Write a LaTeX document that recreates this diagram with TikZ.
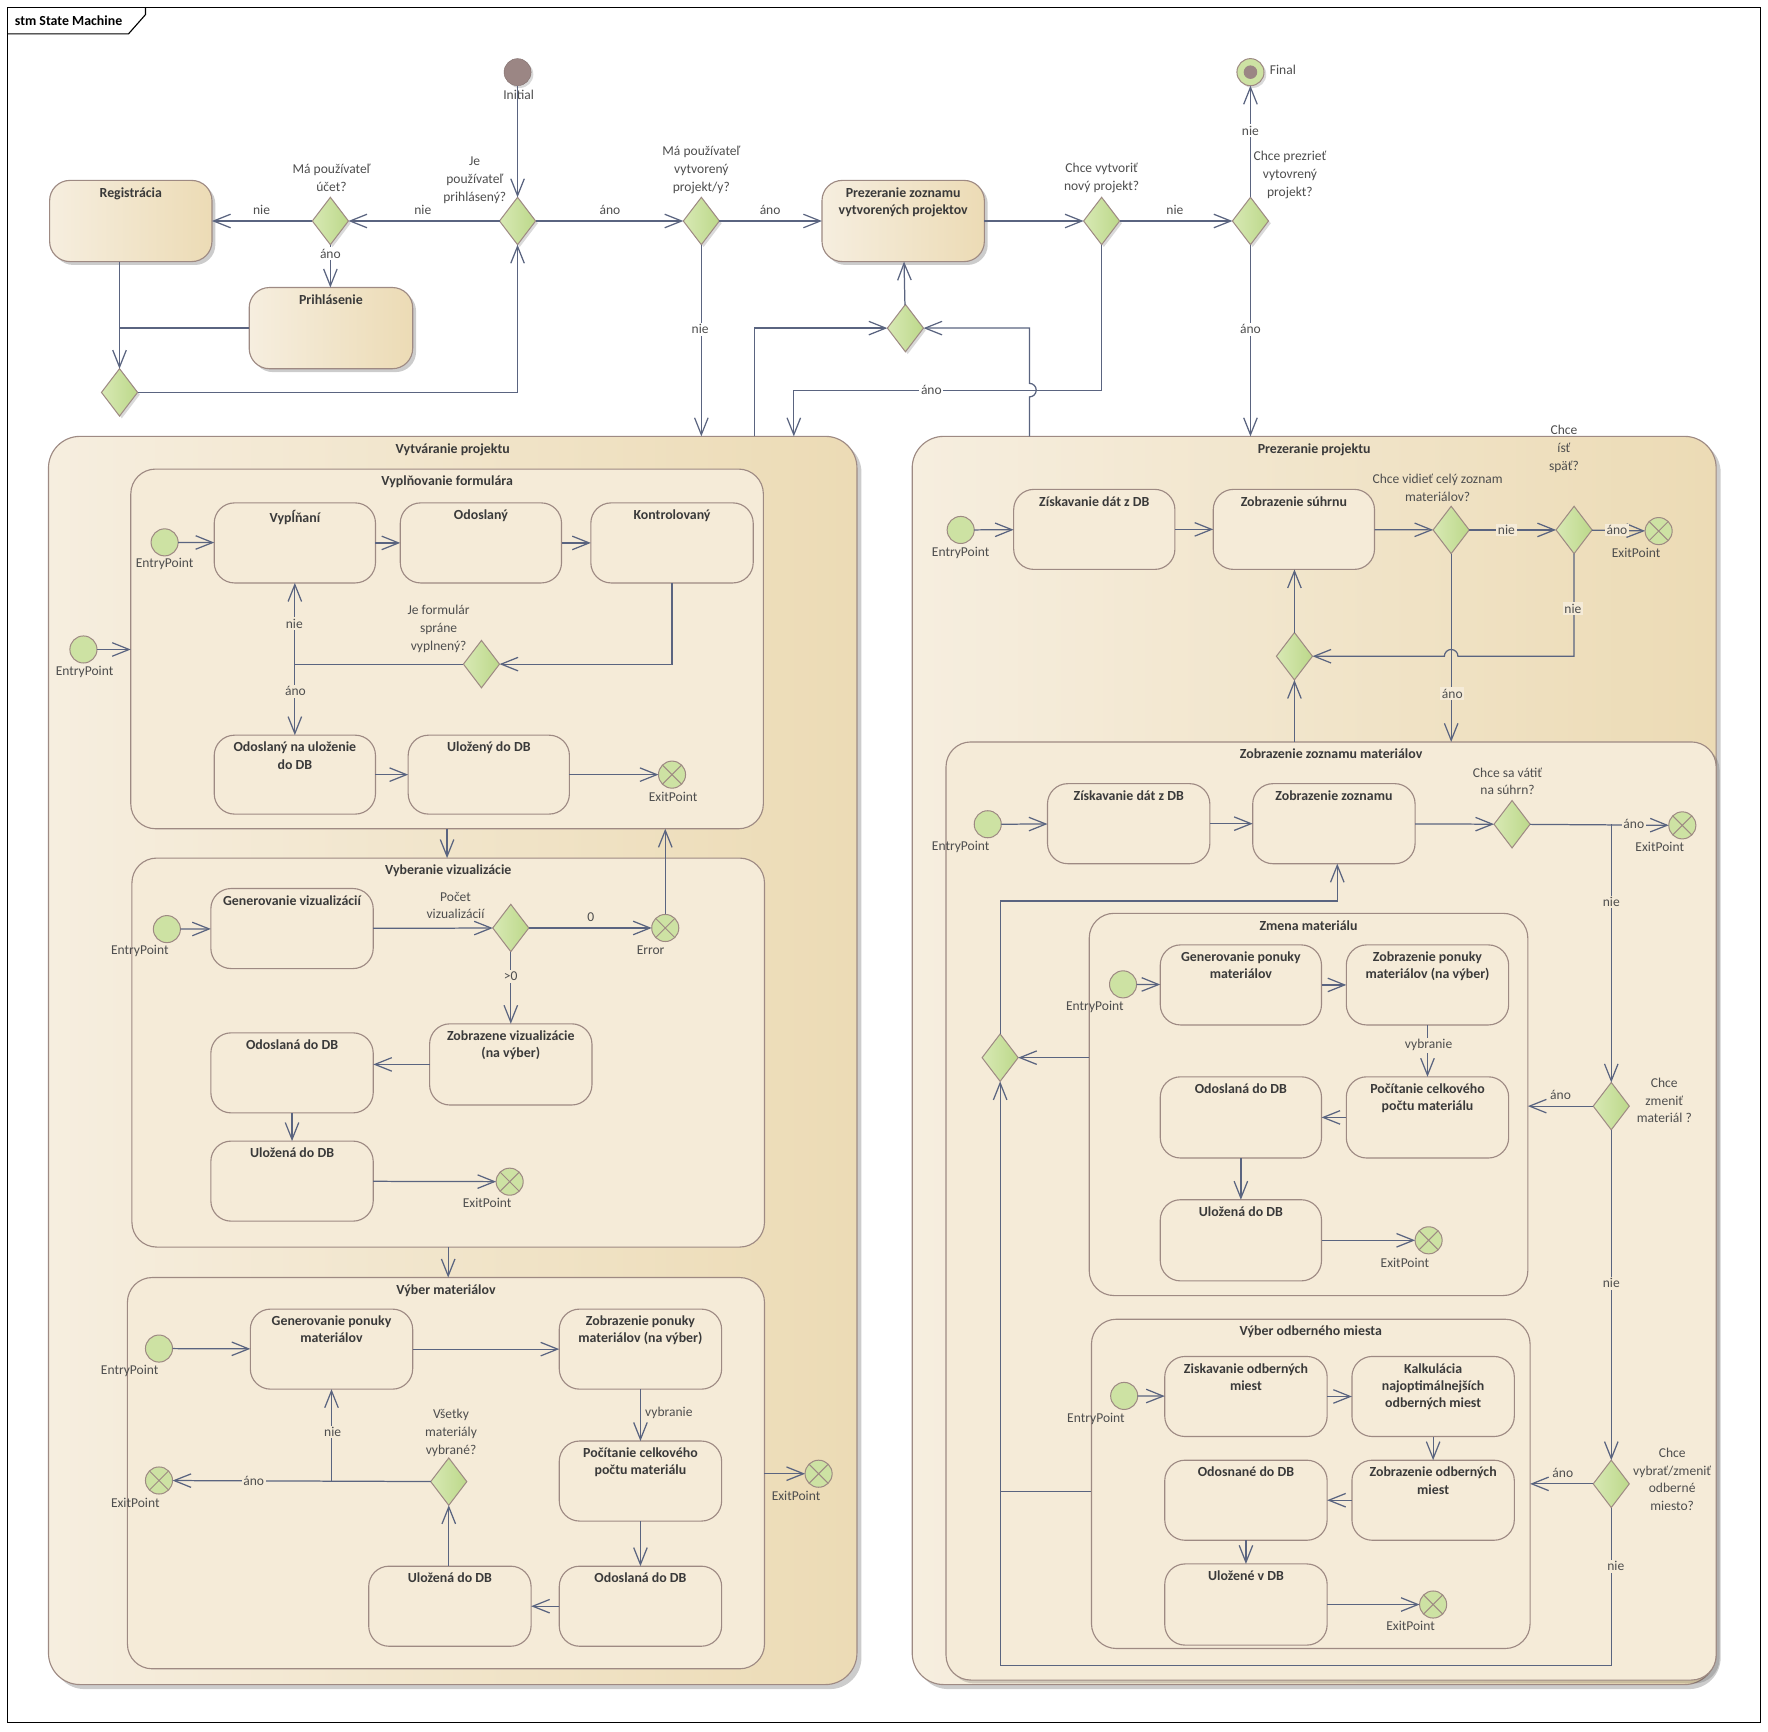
\documentclass[tikz,border=0pt]{standalone}
\usepackage{fontspec}
\setmainfont{Carlito}
\usetikzlibrary{arrows.meta,shapes.geometric,shadows}

\definecolor{lnc}{HTML}{5A6480}
\definecolor{bdc}{HTML}{9E8A83}
\definecolor{crm}{HTML}{F5EBD8}
\definecolor{crml}{HTML}{F6EEDF}
\definecolor{tanc}{HTML}{ECDBB5}
\definecolor{grnL}{HTML}{D8E9B4}
\definecolor{grnR}{HTML}{BCD88A}
\definecolor{grn}{HTML}{CDE2A3}
\definecolor{ini}{HTML}{9B8684}
\definecolor{txt}{HTML}{3A3A3A}
\definecolor{lbl}{HTML}{4E4E4E}

\tikzset{
  ln/.style={draw=lnc, line width=1.1pt},
  tr/.style={ln, -{Straight Barb[length=15pt,width=12pt]}},
  state/.style={draw=bdc, line width=1pt, fill=crm, rounded corners=18pt,
    inner sep=0pt, outer sep=0pt},
  topst/.style={left color=crml, right color=tanc,
    drop shadow={shadow xshift=3pt,shadow yshift=-3pt,fill=black,opacity=.2}},
  comp/.style={rounded corners=22pt},
  bigst/.style={rounded corners=28pt, left color=crml, right color=tanc,
    drop shadow={shadow xshift=4pt,shadow yshift=-4pt,fill=black,opacity=.2}},
  choice/.style={diamond, draw=bdc, line width=0.9pt, left color=grnL,
    right color=grnR, minimum width=32pt, minimum height=42pt, inner sep=0pt,
    outer sep=0pt},
  topch/.style={drop shadow={shadow xshift=2pt,shadow yshift=-2pt,fill=black,opacity=.15}},
  entry/.style={circle, draw=bdc, fill=grn, minimum size=24pt, inner sep=0pt,
    outer sep=0pt, line width=0.9pt},
  exitp/.style={entry, path picture={
    \draw[bdc,line width=0.9pt]
      ([shift={(-8.5pt,-8.5pt)}]path picture bounding box.center) --
      ([shift={(8.5pt,8.5pt)}]path picture bounding box.center)
      ([shift={(-8.5pt,8.5pt)}]path picture bounding box.center) --
      ([shift={(8.5pt,-8.5pt)}]path picture bounding box.center);}},
  titlest/.style={font=\bfseries\fontsize{12.3}{15.2}\selectfont, text=txt,
    align=center, inner sep=1pt},
  lab/.style={font=\fontsize{12}{15.8}\selectfont, text=lbl, align=center,
    inner sep=1pt},
  labw/.style={lab, fill=white, inner sep=1.5pt},
  labc/.style={lab, fill=crm, inner sep=1.5pt},
}

% state box given by its corners, with its title near the top edge
\newcommand{\stbx}[7][]{%
  \pgfmathsetmacro\stbxcx{(#3+#5)/2}%
  \pgfmathsetmacro\stbxcy{(#4+#6)/2}%
  \pgfmathsetmacro\stbxw{#5-#3}%
  \pgfmathsetmacro\stbxh{#6-#4}%
  \node[state,#1,minimum width=\stbxw pt,minimum height=\stbxh pt] (#2) at (\stbxcx,\stbxcy) {};%
  \node[titlest,anchor=north] (#2-t) at ([yshift=-5pt]#2.north) {#7};%
}

\begin{document}
\begin{tikzpicture}[x=1pt,y=-1pt]
\useasboundingbox (0,0) rectangle (1568,1536);
\fill[white] (0,0) rectangle (1568,1536);

% diagram frame
\draw[black,line width=1pt] (7,7) rectangle (1561,1528);
\draw[black,line width=1pt] (7,30) -- (114,30) -- (129,13) -- (129,7);
\node[font=\bfseries\fontsize{12.3}{15}\selectfont, anchor=west, inner sep=0pt] (frame-t) at (13,18) {stm State Machine};

% ---------------- composite states ----------------
\stbx[bigst]{vyt}{43}{387}{760}{1494}{Vytváranie projektu}
\stbx[bigst]{prez}{809}{387}{1522}{1494}{Prezeranie projektu}

\stbx[comp]{vyform}{116}{416}{677}{735}{Vyplňovanie formulára}
\stbx[comp]{vyviz}{117}{761}{678}{1106}{Vyberanie vizualizácie}
\stbx[comp]{vybmat}{113}{1133}{678}{1480}{Výber materiálov}

\stbx[comp,drop shadow={shadow xshift=3pt,shadow yshift=-3pt,fill=black,opacity=.15}]{zzm}{839}{658}{1522}{1490}{Zobrazenie zoznamu materiálov}
\stbx[comp]{zmena}{966}{810}{1355}{1149}{Zmena materiálu}
\stbx[comp]{vyod}{968}{1170}{1357}{1462}{Výber odberného miesta}

% ---------------- top level ----------------
\node[circle, fill=ini, draw=ini!85!black, minimum size=24pt, inner sep=0pt,
  drop shadow={shadow xshift=2pt,shadow yshift=-2pt,fill=black,opacity=.15}] (init) at (459,64) {};
\node[lab] (init-l) at (460,84) {Initial};

\stbx[topst]{reg}{44}{160}{188}{232}{Registrácia}
\stbx[topst]{prih}{221}{255}{366}{327}{Prihlásenie}
\stbx[topst]{pzoz}{729}{160}{873}{232}{Prezeranie zoznamu\\vytvorených projektov}

\node[choice,topch] (d1) at (293,196) {};
\node[choice,topch] (d2) at (459,196) {};
\node[choice,topch] (d3) at (106,348) {};
\node[choice,topch] (d4) at (622,196) {};
\node[choice,topch] (d5) at (977,196) {};
\node[choice,topch] (d6) at (1109,196) {};
\node[choice,topch] (d7) at (803,291) {};

\node[entry, drop shadow={shadow xshift=2pt,shadow yshift=-2pt,fill=black,opacity=.15}] (final) at (1109,64) {};
\node[circle, fill=ini, minimum size=12pt, inner sep=0pt] (final-dot) at (final) {};
\node[lab, anchor=west] (final-l) at (1125,62) {Final};

\node[lab] (d1-l) at (294,158) {Má používateľ\\účet?};
\node[lab] (d2-l) at (421,160) {Je\\používateľ\\prihlásený?};
\node[lab] (d4-l) at (622,151) {Má používateľ\\vytvorený\\projekt/y?};
\node[lab] (d5-l) at (977,158) {Chce vytvoriť\\nový projekt?};
\node[lab] (d6-l) at (1144,155) {Chce prezrieť\\vytovrený\\projekt?};

\coordinate (vyt-p1) at (669,387);
\coordinate (vyt-p2) at (704,387);
\coordinate (ano-c) at (704,346);
\coordinate (pz-p1) at (913,387);

\draw[tr] (init) -- (d2);
\draw[tr] (d2) -- (d1);
\draw[tr] (d1) -- (reg);
\draw[tr] (d1) -- (d1 |- prih.north);
\draw[tr] (d3 |- reg.south) -- (d3);
\draw[ln] (prih.west) -- (prih.west -| d3);
\draw[tr] (d3) -| (d2);
\draw[tr] (d2) -- (d4);
\draw[tr] (d4) -- (pzoz);
\draw[tr] (d4) -- (d4 |- vyt.north);
\draw[tr] (pzoz) -- (d5);
\draw[tr] (d5) -- (d6);
\draw[tr] (d6) -- (final);
\draw[tr] (d6) -- (d6 |- prez.north);
\draw[tr] (d5.south) |- (ano-c) -- (vyt-p2);
\draw[tr] (vyt-p1) |- (d7);
\draw[tr] (pz-p1) -- ++(0,-35) arc[start angle=90,end angle=-90,radius=6] |- (d7);
\draw[tr] (d7) -- (pzoz);

\node[lab] (l-nie1) at (232,186) {nie};
\node[lab] (l-nie2) at (375,186) {nie};
\node[labw] (l-ano1) at (293,225) {áno};
\node[lab] (l-ano2) at (541,186) {áno};
\node[lab] (l-ano3) at (683,186) {áno};
\node[labw] (l-nie3) at (621,292) {nie};
\node[lab] (l-nie4) at (1042,186) {nie};
\node[labw] (l-nie5) at (1109,116) {nie};
\node[labw] (l-ano4) at (1109,292) {áno};
\node[labw] (l-ano5) at (826,346) {áno};

% ---------------- Vytváranie projektu ----------------
\node[entry] (ep0) at (74,576) {};
\node[lab] (ep0-l) at (75,596) {EntryPoint};
\draw[tr] (ep0) -- (ep0 -| vyform.west);

% Vyplňovanie formulára
\node[entry] (ep1) at (146,481) {};
\node[lab] (ep1-l) at (146,500) {EntryPoint};
\stbx{vyp}{190}{446}{333}{517}{Vypĺňaní}
\stbx{ods}{355}{446}{498}{517}{Odoslaný}
\stbx{kon}{524}{446}{668}{517}{Kontrolovaný}
\node[choice] (dform) at (427,589) {};
\node[lab] (dform-l) at (389,558) {Je formulár\\spráne\\vyplnený?};
\stbx{ouloz}{190}{652}{333}{722}{Odoslaný na uloženie\\do DB}
\stbx{uloz}{362}{652}{505}{722}{Uložený do DB}
\node[exitp] (ex1) at (596,687) {};
\node[lab] (ex1-l) at (597,707) {ExitPoint};

\draw[tr] (ep1) -- (vyp);
\draw[tr] (vyp) -- (ods);
\draw[tr] (ods) -- (kon);
\draw[tr] (kon.south) |- (dform);
\draw[ln] (dform) -- (dform -| vyp);
\draw[tr] (dform -| vyp) -- (vyp.south);
\draw[tr] (dform -| vyp) -- (ouloz.north);
\draw[tr] (ouloz) -- (uloz);
\draw[tr] (uloz) -- (ex1);
\node[labc] (l-nie6) at (261,553) {nie};
\node[labc] (l-ano6) at (262,613) {áno};

\draw[tr] (vyform.south) -- (vyform.south |- vyviz.north);

% Vyberanie vizualizácie
\node[entry] (ep2) at (148,824) {};
\node[lab] (ep2-l) at (124,843) {EntryPoint};
\stbx{genviz}{187}{788}{331}{859}{Generovanie vizualizácií}
\node[choice] (dviz) at (453,823) {};
\node[lab] (dviz-l) at (404,803) {Počet\\vizualizácií};
\node[exitp] (err) at (590,823) {};
\node[lab] (err-l) at (577,843) {Error};
\stbx{zobviz}{381}{908}{525}{980}{Zobrazene vizualizácie\\(na výber)}
\stbx{odviz}{187}{916}{331}{987}{Odoslaná do DB}
\stbx{ulviz}{187}{1012}{331}{1083}{Uložená do DB}
\node[exitp] (ex2) at (452,1048) {};
\node[lab] (ex2-l) at (432,1067) {ExitPoint};

\draw[tr] (ep2) -- (genviz);
\draw[tr] (genviz) -- (dviz);
\draw[tr] (dviz) -- (err);
\draw[tr] (dviz) -- (dviz |- zobviz.north);
\draw[tr] (zobviz) -- (zobviz -| odviz.east);
\draw[tr] (odviz) -- (ulviz);
\draw[tr] (ulviz) -- (ex2);
\draw[tr] (err) -- (err |- vyform.south);
\node[lab] (l-zero) at (524,813) {0};
\node[labc] (l-gt) at (453,866) {>0};

\draw[tr] (vyviz.south) -- (vyviz.south |- vybmat.north);

% Výber materiálov
\node[entry] (ep3) at (141,1196) {};
\node[lab] (ep3-l) at (115,1216) {EntryPoint};
\stbx{genmat}{222}{1161}{366}{1232}{Generovanie ponuky\\materiálov}
\stbx{zobmat}{496}{1161}{640}{1232}{Zobrazenie ponuky\\materiálov (na výber)}
\stbx{pocmat}{496}{1278}{640}{1349}{Počítanie celkového\\počtu materiálu}
\stbx{odmat}{496}{1389}{640}{1460}{Odoslaná do DB}
\stbx{ulmat}{327}{1389}{471}{1460}{Uložená do DB}
\node[choice] (dmat) at (398,1314) {};
\node[lab] (dmat-l) at (400,1271) {Všetky\\materiály\\vybrané?};
\node[exitp] (ex3) at (141,1313) {};
\node[lab] (ex3-l) at (120,1333) {ExitPoint};
\node[exitp] (ex4) at (726,1307) {};
\node[lab] (ex4-l) at (706,1327) {ExitPoint};

\draw[tr] (ep3) -- (genmat);
\draw[tr] (genmat) -- (zobmat);
\draw[tr] (zobmat) -- (pocmat);
\draw[tr] (pocmat) -- (odmat);
\draw[tr] (odmat) -- (ulmat);
\draw[tr] (ulmat.north -| dmat) -- (dmat);
\draw[tr] (dmat) -- (ex3);
\draw[tr] (genmat |- dmat) -- (genmat.south);
\draw[tr] (ex4 -| vybmat.east) -- (ex4);
\node[lab, anchor=west] (l-vyb1) at (571,1253) {vybranie};
\node[labc] (l-nie7) at (295,1270) {nie};
\node[labc] (l-ano7) at (225,1313) {áno};

% ---------------- Prezeranie projektu ----------------
\node[lab] (spat-l) at (1387,398) {Chce\\ísť\\späť?};
\node[entry] (ep4) at (852,470) {};
\node[lab] (ep4-l) at (852,490) {EntryPoint};
\stbx{ziska}{899}{434}{1042}{505}{Získavanie dát z DB}
\stbx{zsuh}{1076}{434}{1219}{505}{Zobrazenie súhrnu}
\node[choice] (dcel) at (1287,470) {};
\node[lab] (dcel-l) at (1275,433) {Chce vidieť celý zoznam\\materiálov?};
\node[choice] (dspat) at (1396,470) {};
\node[exitp] (ex5) at (1471,471) {};
\node[lab] (ex5-l) at (1451,490) {ExitPoint};
\node[choice] (dsum) at (1148,582) {};
\coordinate (jmp1) at (1293,582);

\draw[tr] (ep4) -- (ziska);
\draw[tr] (ziska) -- (zsuh);
\draw[tr] (zsuh) -- (dcel);
\draw[tr] (dcel) -- (dspat);
\draw[tr] (dspat) -- (ex5);
\draw[tr] (dspat.south) |- (jmp1) arc[start angle=0,end angle=-180,radius=6] -- (dsum);
\draw[tr] (dcel) -- (dcel |- zzm.north);
\draw[tr] (dsum) -- (dsum |- zsuh.south);
\draw[tr] (dsum |- zzm.north) -- (dsum);
\node[labc] (l-nie8) at (1336,470) {nie};
\node[labc] (l-ano8) at (1434,470) {áno};
\node[labc] (l-nie9) at (1395,540) {nie};
\node[labc] (l-ano9) at (1288,615) {áno};

% Zobrazenie zoznamu materiálov
\node[entry] (ep5) at (876,731) {};
\node[lab] (ep5-l) at (852,751) {EntryPoint};
\stbx{ziska2}{929}{695}{1073}{766}{Získavanie dát z DB}
\stbx{zzoz}{1111}{695}{1255}{766}{Zobrazenie zoznamu}
\node[choice] (dvat) at (1341,731) {};
\node[lab] (dvat-l) at (1337,693) {Chce sa vátiť\\na súhrn?};
\node[exitp] (ex6) at (1492,732) {};
\node[lab] (ex6-l) at (1472,751) {ExitPoint};
\node[choice] (dzm) at (1429,981) {};
\node[lab] (dzm-l) at (1476,976) {Chce\\zmeniť\\materiál ?};
\node[choice] (dodb) at (1429,1316) {};
\node[lab] (dodb-l) at (1483,1312) {Chce\\vybrať/zmeniť\\odberné\\miesto?};
\node[choice] (dleft) at (887,938) {};
\coordinate (cbot) at (887,1477);
\coordinate (ctop) at (1186,799);
\coordinate (zz-s) at (1186,766);
\coordinate (zm-w) at (966,938);
\coordinate (vyo-w) at (968,1323);

\draw[tr] (ep5) -- (ziska2);
\draw[tr] (ziska2) -- (zzoz);
\draw[tr] (zzoz) -- (dvat);
\draw[tr] (dvat) -- (ex6);
\draw[tr] (dzm |- dvat) -- (dzm);
\draw[tr] (dzm) -- (dzm -| zmena.east);
\draw[tr] (dzm) -- (dodb);
\draw[tr] (dodb) -- (dodb -| vyod.east);
\draw[tr] (dodb.south) |- (cbot) -- (dleft);
\draw[tr] (zm-w) -- (dleft);
\draw[ln] (vyo-w) -- (vyo-w -| dleft);
\draw[tr] (dleft.north) |- (ctop) -- (zz-s);
\node[labc] (l-ano10) at (1449,731) {áno};
\node[labc] (l-nie10) at (1429,800) {nie};
\node[lab] (l-ano11) at (1384,971) {áno};
\node[labc] (l-nie11) at (1429,1138) {nie};
\node[lab] (l-ano12) at (1386,1306) {áno};
\node[labc] (l-nie12) at (1433,1389) {nie};

% Zmena materiálu
\node[entry] (ep6) at (996,873) {};
\node[lab] (ep6-l) at (971,893) {EntryPoint};
\stbx{genm2}{1029}{838}{1172}{909}{Generovanie ponuky\\materiálov}
\stbx{zobm2}{1194}{838}{1338}{909}{Zobrazenie ponuky\\materiálov (na výber)}
\stbx{pocm2}{1194}{955}{1338}{1027}{Počítanie celkového\\počtu materiálu}
\stbx{odm2}{1029}{955}{1172}{1027}{Odoslaná do DB}
\stbx{ulm2}{1029}{1064}{1172}{1136}{Uložená do DB}
\node[exitp] (ex7) at (1267,1100) {};
\node[lab] (ex7-l) at (1246,1120) {ExitPoint};

\draw[tr] (ep6) -- (genm2);
\draw[tr] (genm2) -- (zobm2);
\draw[tr] (zobm2) -- (pocm2);
\draw[tr] (pocm2) -- (odm2);
\draw[tr] (odm2) -- (ulm2);
\draw[tr] (ulm2) -- (ex7);
\node[labc] (l-vyb2) at (1267,927) {vybranie};

% Výber odberného miesta
\node[entry] (ep7) at (997,1238) {};
\node[lab] (ep7-l) at (972,1258) {EntryPoint};
\stbx{zisod}{1033}{1203}{1177}{1274}{Ziskavanie odberných\\miest}
\stbx{kalk}{1199}{1203}{1343}{1274}{Kalkulácia\\najoptimálnejších\\odberných miest}
\stbx{zobod}{1199}{1295}{1343}{1366}{Zobrazenie odberných\\miest}
\stbx{odsod}{1033}{1295}{1177}{1366}{Odosnané do DB}
\stbx{ulod}{1033}{1387}{1177}{1459}{Uložené v DB}
\node[exitp] (ex8) at (1271,1423) {};
\node[lab] (ex8-l) at (1251,1442) {ExitPoint};

\draw[tr] (ep7) -- (zisod);
\draw[tr] (zisod) -- (kalk);
\draw[tr] (kalk) -- (zobod);
\draw[tr] (zobod) -- (odsod);
\draw[tr] (odsod) -- (ulod);
\draw[tr] (ulod) -- (ex8);

\end{tikzpicture}
\end{document}
